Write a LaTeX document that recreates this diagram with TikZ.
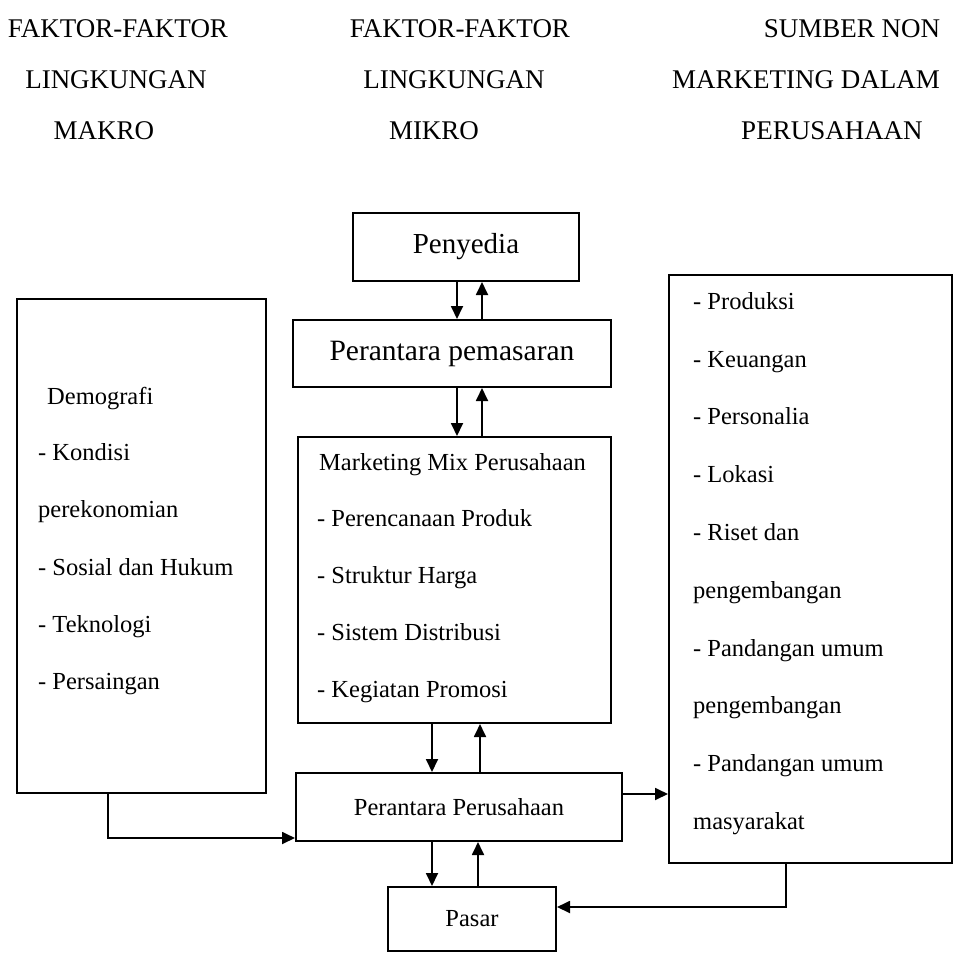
\documentclass[tikz,border=0pt]{standalone}
\usepackage{fontspec}
\setmainfont{Liberation Serif}
\usetikzlibrary{arrows.meta}
\begin{document}
\begin{tikzpicture}[x=1pt,y=-1pt,
  box/.style={draw, line width=2pt, inner sep=0pt, anchor=north west},
  conn/.style={line width=1.8pt, -{Triangle[length=13pt,width=12pt]}},
  hd/.style={font=\fontsize{27}{30}\selectfont, inner sep=0pt, anchor=base},
  txt/.style={font=\fontsize{24.5}{28}\selectfont, inner sep=0pt, anchor=base west}]
\useasboundingbox (0,0) rectangle (953,954);

% headers
\node[hd] (h11) at (118,37) {FAKTOR-FAKTOR};
\node[hd] (h12) at (116,88) {LINGKUNGAN};
\node[hd] (h13) at (104,139) {MAKRO};
\node[hd] (h21) at (460,37) {FAKTOR-FAKTOR};
\node[hd] (h22) at (454,88) {LINGKUNGAN};
\node[hd] (h23) at (434,139) {MIKRO};
\node[hd] (h31) at (852,37) {SUMBER NON};
\node[hd] (h32) at (806,88) {MARKETING DALAM};
\node[hd] (h33) at (832,139) {PERUSAHAAN};

% boxes
\node[box, minimum width=226pt, minimum height=68pt] (peny) at (352,212) {};
\node[font=\fontsize{29}{31}\selectfont] at (peny.center) {Penyedia};
\node[box, minimum width=318pt, minimum height=67pt] (pem) at (292,319) {};
\node[font=\fontsize{29.5}{31}\selectfont] at (pem.center) {Perantara pemasaran};
\node[box, minimum width=313pt, minimum height=286pt] (mm) at (297,436) {};
\node[box, minimum width=249pt, minimum height=494pt] (lbox) at (16,298) {};
\node[box, minimum width=283pt, minimum height=588pt] (rbox) at (668,274) {};
\node[box, minimum width=326pt, minimum height=68pt] (pp) at (295,772) {};
\node[font=\fontsize{24.5}{26}\selectfont] at (pp.center) {Perantara Perusahaan};
\node[box, minimum width=168pt, minimum height=64pt] (pasar) at (387,886) {};
\node[font=\fontsize{24.5}{26}\selectfont] at (pasar.center) {Pasar};

% left box text
\node[txt] (l1) at (47,404) {Demografi};
\node[txt] (l2) at (38,460) {- Kondisi};
\node[txt] (l3) at (38,517) {perekonomian};
\node[txt] (l4) at (38,575) {- Sosial dan Hukum};
\node[txt] (l5) at (38,632) {- Teknologi};
\node[txt] (l6) at (38,689) {- Persaingan};

% marketing mix text
\node[txt] (m1) at (319,470) {Marketing Mix Perusahaan};
\node[txt] (m2) at (317,526) {- Perencanaan Produk};
\node[txt] (m3) at (317,583) {- Struktur Harga};
\node[txt] (m4) at (317,640) {- Sistem Distribusi};
\node[txt] (m5) at (317,697) {- Kegiatan Promosi};

% right box text
\node[txt] (r1) at (693,309) {- Produksi};
\node[txt] (r2) at (693,367) {- Keuangan};
\node[txt] (r3) at (693,424) {- Personalia};
\node[txt] (r4) at (693,482) {- Lokasi};
\node[txt] (r5) at (693,540) {- Riset dan};
\node[txt] (r6) at (693,598) {pengembangan};
\node[txt] (r7) at (693,656) {- Pandangan umum};
\node[txt] (r8) at (693,713) {pengembangan};
\node[txt] (r9) at (693,771) {- Pandangan umum};
\node[txt] (r10) at (693,829) {masyarakat};

% arrow columns
\coordinate (c1) at (457,0);
\coordinate (c2) at (482,0);
\coordinate (c3) at (432,0);
\coordinate (c4) at (480,0);
\coordinate (c5) at (478,0);
\coordinate (lx) at (108,0);
\coordinate (ly) at (0,838);
\coordinate (ry) at (0,794);
\coordinate (rx) at (786,0);
\coordinate (py) at (0,907);

\draw[conn] (peny.south -| c1) -- (pem.north -| c1);
\draw[conn] (pem.north -| c2) -- (peny.south -| c2);
\draw[conn] (pem.south -| c1) -- (mm.north -| c1);
\draw[conn] (mm.north -| c2) -- (pem.south -| c2);
\draw[conn] (mm.south -| c3) -- (pp.north -| c3);
\draw[conn] (pp.north -| c4) -- (mm.south -| c4);
\draw[conn] (pp.south -| c3) -- (pasar.north -| c3);
\draw[conn] (pasar.north -| c5) -- (pp.south -| c5);
\draw[conn] (lbox.south -| lx) -- (lx |- ly) -- (pp.west |- ly);
\draw[conn] (pp.east |- ry) -- (rbox.west |- ry);
\draw[conn] (rbox.south -| rx) -- (rx |- py) -- (pasar.east |- py);
\end{tikzpicture}
\end{document}
